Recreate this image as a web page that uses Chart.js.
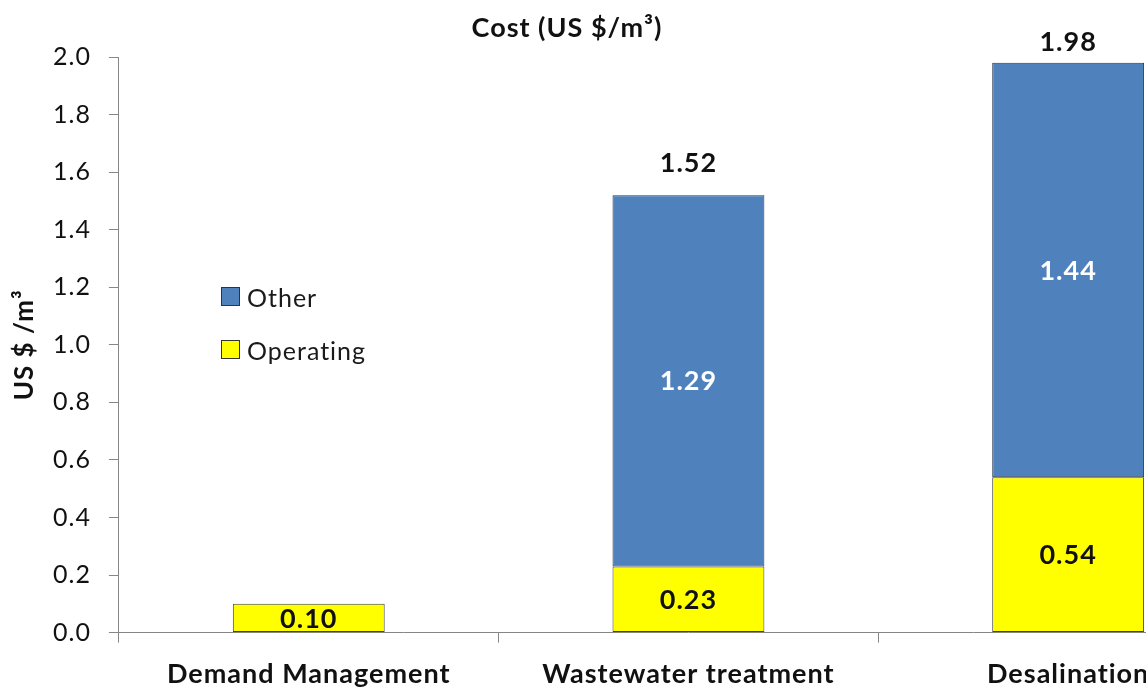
<!DOCTYPE html>
<html>
<head>
<meta charset="utf-8">
<script src="https://cdn.jsdelivr.net/npm/chart.js@4.4.1/dist/chart.umd.min.js"></script>
<style>
  html, body { margin: 0; padding: 0; background: #fff; overflow: hidden; }
  #wrap { position: relative; width: 1146px; height: 688px; overflow: hidden; }
  #legend { position: absolute; left: 221px; top: 270px; font-family: Lato, sans-serif; font-size: 25px; letter-spacing: 1px; color: #1a1a1a; }
  #legend .row { display: flex; align-items: center; height: 53px; }
  #legend .box { width: 17px; height: 17px; border: 1px solid #333; margin-right: 7px; }
</style>
</head>
<body>
<div id="wrap">
  <canvas id="costChart" width="1258" height="705"></canvas>
  <div id="legend"></div>
</div>
<script>
// Données du graphique
const categories = ["Demand Management", "Wastewater treatment", "Desalination"];
const operating = [0.10, 0.23, 0.54];
const other = [0, 1.29, 1.44];
const chartTitle = "Cost (US $/m\u00B3)";
const yTitle = "US $ /m\u00B3";

const FONT = "Lato, sans-serif";

// Espacement des lettres pour se rapprocher de Calibri
const spacing = {
    id: "spacing",
    beforeDraw(chart) { chart.ctx.letterSpacing = "1px"; }
};

// Étiquettes de valeurs sur les barres + totaux
const valueLabels = {
    id: "valueLabels",
    afterDatasetsDraw(chart) {
        const ctx = chart.ctx;
        ctx.save();
        ctx.font = "bold 27px " + FONT;
        ctx.textAlign = "center";
        ctx.textBaseline = "middle";
        chart.data.datasets.forEach((ds, di) => {
            chart.getDatasetMeta(di).data.forEach((bar, i) => {
                let v = ds.data[i];
                if (!v) return;
                ctx.fillStyle = ds.labelColor;
                ctx.fillText(v.toFixed(2), bar.x, (bar.y + bar.base) / 2 + 1);
            });
        });
        let yScale = chart.scales.y;
        let bars = chart.getDatasetMeta(1).data;
        categories.forEach((c, i) => {
            if (!other[i]) return;
            let total = operating[i] + other[i];
            // garder l'étiquette dans la zone du graphique (comme Excel)
            let y = Math.max(yScale.getPixelForValue(total) - 32, chart.chartArea.top - 15);
            ctx.fillStyle = "#111";
            ctx.fillText(total.toFixed(2), bars[i].x, y);
        });
        ctx.restore();
    }
};

// Titre dessiné à la main (décalé vers la gauche comme dans l'original)
const topTitle = {
    id: "topTitle",
    afterDraw(chart) {
        const ctx = chart.ctx;
        ctx.save();
        ctx.font = "bold 27px " + FONT;
        ctx.fillStyle = "#111";
        ctx.textAlign = "center";
        ctx.textBaseline = "middle";
        ctx.fillText(chartTitle, 567, 28);
        ctx.restore();
    }
};

let ctx = document.getElementById("costChart").getContext("2d");
let costChart = new Chart(ctx, {
    type: "bar",
    data: {
        labels: categories,
        datasets: [
            {
                label: "Operating",
                data: operating,
                backgroundColor: "#FFFF00",
                borderColor: "#404040",
                borderWidth: 1,
                borderSkipped: false,
                labelColor: "#111"
            },
            {
                label: "Other",
                data: other,
                backgroundColor: "#4F81BD",
                borderColor: "#26374f",
                borderWidth: 1,
                borderSkipped: false,
                labelColor: "#fff"
            }
        ]
    },
    options: {
        responsive: false,
        animation: false,
        layout: { padding: { top: 57, left: 6, right: 0, bottom: 0 } },
        datasets: { bar: { categoryPercentage: 1.0, barPercentage: 0.4 } },
        plugins: {
            legend: { display: false },
            title: { display: false },
            tooltip: { enabled: false }
        },
        scales: {
            x: {
                stacked: true,
                grid: { drawOnChartArea: false, color: "#868686", tickLength: 10 },
                border: { color: "#868686" },
                ticks: { color: "#111", padding: 15, font: { family: FONT, size: 27, weight: "bold" } }
            },
            y: {
                stacked: true,
                min: 0,
                max: 2.0,
                grid: { drawOnChartArea: false, color: "#868686", tickLength: 10 },
                border: { color: "#868686" },
                ticks: {
                    stepSize: 0.2,
                    color: "#111",
                    padding: 18,
                    font: { family: FONT, size: 25 },
                    callback: v => v.toFixed(1)
                },
                title: {
                    display: true,
                    text: yTitle,
                    color: "#111",
                    padding: { top: 6, bottom: 0 },
                    font: { family: FONT, size: 26, weight: "bold", lineHeight: 1 }
                }
            }
        }
    },
    plugins: [spacing, valueLabels, topTitle]
});

// Légende HTML (Other au-dessus, Operating en dessous)
let legend = document.getElementById("legend");
costChart.data.datasets.slice().reverse().forEach(ds => {
    let row = document.createElement("div");
    row.className = "row";
    row.innerHTML = `<span class="box" style="background:${ds.backgroundColor}"></span><span>${ds.label}</span>`;
    legend.appendChild(row);
});
</script>
</body>
</html>
